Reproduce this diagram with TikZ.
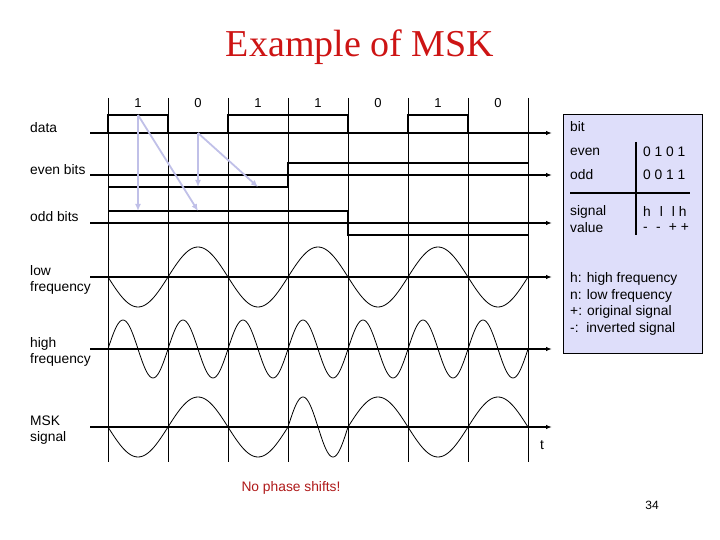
\documentclass[tikz,border=0pt]{standalone}
\usepackage{fontspec}
\setmainfont{Liberation Sans}
\newfontfamily\titlefont{Liberation Serif}
\usetikzlibrary{arrows.meta}
\definecolor{titlered}{RGB}{205,20,20}
\definecolor{notered}{RGB}{175,25,25}
\definecolor{boxfill}{RGB}{222,222,250}
\definecolor{lav}{RGB}{192,192,232}
\tikzset{
  axis/.style={line width=2pt,-{Latex[length=6pt,width=4.5pt]}},
  sig/.style={line width=2pt},
  grid/.style={line width=0.8pt},
  wave/.style={line width=0.8pt},
  lbl/.style={font=\fontsize{13.8}{16.5}\selectfont,align=left,anchor=west,inner sep=0pt},
  bitlbl/.style={font=\fontsize{13}{14}\selectfont,inner sep=0pt},
  hint/.style={draw=lav,line width=1.8pt,-{Latex[length=7pt,width=6pt]}},
}
\begin{document}
\begin{tikzpicture}[x=1pt,y=-1pt]
\useasboundingbox (0,0) rectangle (720,540);
% title
\node[font=\titlefont\fontsize{38}{40}\selectfont,text=titlered] (title) at (360,47) {Example of MSK};
% legend box
\draw[fill=boxfill,line width=0.8pt] (563,114) rectangle (702,353);
% grid lines
\foreach \i in {0,...,7} {\draw[grid] (108+60*\i,98) -- (108+60*\i,462);}
% bit labels
\foreach \b [count=\i from 0] in {1,0,1,1,0,1,0} {\node[bitlbl] (bit\i) at (138+60*\i,103) {\b};}
% axes
\coordinate (d0) at (90,133); \coordinate (d1) at (552,133);
\coordinate (e0) at (90,175); \coordinate (e1) at (552,175);
\coordinate (o0) at (90,223); \coordinate (o1) at (552,223);
\coordinate (l0) at (90,277); \coordinate (l1) at (552,277);
\coordinate (h0) at (90,349); \coordinate (h1) at (552,349);
\coordinate (m0) at (90,427); \coordinate (m1) at (552,427);
\foreach \a in {d,e,o,l,h,m} {\draw[axis] (\a0) -- (\a1);}
% data signal
\draw[sig] (108,133) -- (108,115) -- (168,115) -- (168,133);
\draw[sig] (228,133) -- (228,115) -- (348,115) -- (348,133);
\draw[sig] (408,133) -- (408,115) -- (468,115) -- (468,133);
% even bits
\draw[sig] (108,187) -- (288,187) -- (288,163) -- (528,163);
% odd bits
\draw[sig] (108,211) -- (348,211) -- (348,235) -- (528,235);
% hint arrows
\coordinate (pA) at (138,115); \coordinate (pB) at (198,133);
\coordinate (tA1) at (138,211); \coordinate (tA2) at (198,211);
\coordinate (tB1) at (198,187); \coordinate (tB2) at (258,187);
\draw[hint] (pA) -- (tA1);
\draw[hint] (pA) -- (tA2);
\draw[hint] (pB) -- (tB1);
\draw[hint] (pB) -- (tB2);
% low frequency
\draw[wave] plot[domain=108:528,samples=211,smooth] (\x,{277+30*sin(3*(\x-108))});
% high frequency
\draw[wave] plot[domain=108:528,samples=281,smooth] (\x,{349-29*sin(6*(\x-108))});
% MSK
\draw[wave] plot[domain=108:288,samples=91,smooth] (\x,{427+30*sin(3*(\x-108))})
  -- plot[domain=288:348,samples=61,smooth] (\x,{427-30*sin(6*(\x-288))})
  -- plot[domain=348:528,samples=91,smooth] (\x,{427-30*sin(3*(\x-348))});
% left labels
\node[lbl] (ldata) at (30,128) {data};
\node[lbl] (leven) at (30,170) {even bits};
\node[lbl] (lodd) at (30,217) {odd bits};
\node[lbl] (llow) at (30,280) {low\\frequency};
\node[lbl] (lhigh) at (30,352) {high\\frequency};
\node[lbl] (lmsk) at (30,430) {MSK\\signal};
\node[lbl] (lt) at (540,445) {t};
% table
\node[lbl] (tbit) at (570,127) {bit};
\node[lbl] (teven) at (570,152) {even};
\node[lbl] (todd) at (570,175) {odd};
\node[lbl] (tsig) at (570,219) {signal\\value};
\node[lbl] (veven) at (643,152) {0 1 0 1};
\node[lbl] (vodd) at (643,175) {0 0 1 1};
\node[lbl] (vh) at (643,211) {h\hspace{0.65em}l\hspace{0.65em}l h};
\node[lbl] (vs) at (643,228) {-\hspace{0.6em}-\hspace{0.6em}+ +};
\draw[line width=2pt] (636,142) -- (636,235);
\draw[line width=2pt] (570,193) -- (690,193);
\node[lbl] (legend) at (570,304) {h: high frequency\\n: low frequency\\+: original signal\\-:\ \ inverted signal};
% bottom notes
\node[font=\fontsize{13.8}{16}\selectfont,text=notered] (note) at (291,488) {No phase shifts!};
\node[font=\fontsize{12}{14}\selectfont] (page) at (652,505) {34};
\end{tikzpicture}
\end{document}
